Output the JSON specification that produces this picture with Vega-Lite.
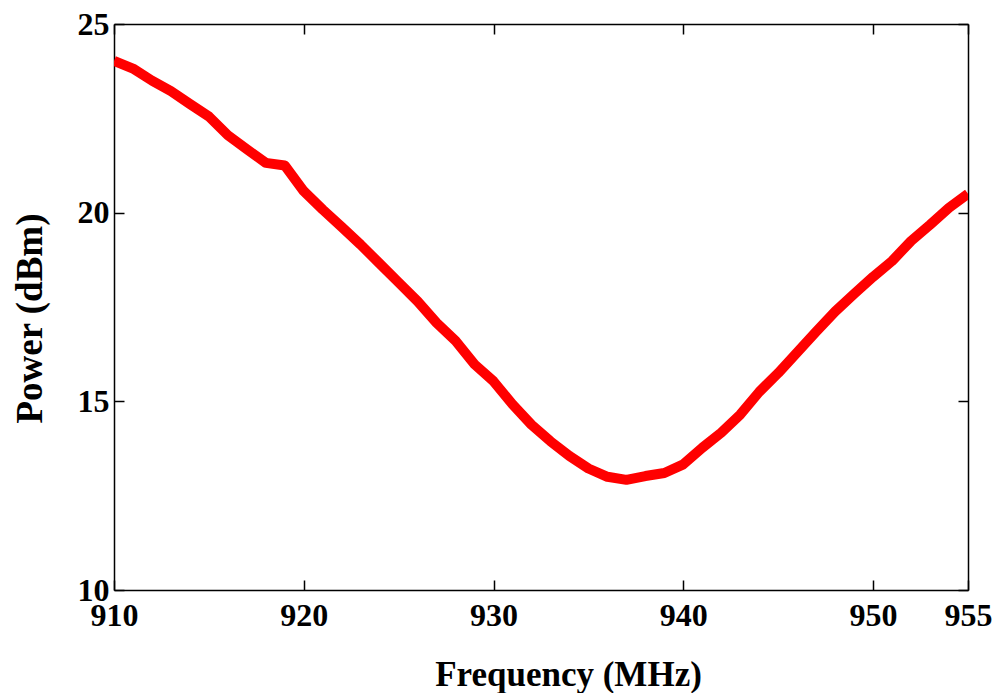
{
  "$schema": "https://vega.github.io/schema/vega-lite/v6.json",
  "autosize": "none",
  "width": 854,
  "height": 566,
  "padding": {"left": 114, "top": 24, "right": 26, "bottom": 103},
  "background": "white",
  "config": {
    "view": {"stroke": null},
    "font": "Liberation Serif",
    "axis": {
      "domainColor": "black",
      "domainWidth": 1.5,
      "tickColor": "black",
      "tickWidth": 1.5,
      "tickSize": -10,
      "grid": false,
      "labelFont": "Liberation Serif",
      "labelFontWeight": "bold",
      "labelFontSize": 32,
      "labelColor": "black",
      "titleFont": "Liberation Serif",
      "titleFontWeight": "bold",
      "titleColor": "black"
    }
  },
  "data": {
    "values": [
      {"f": 910, "p": 24.02}, {"f": 911, "p": 23.82}, {"f": 912, "p": 23.5},
      {"f": 913, "p": 23.22}, {"f": 914, "p": 22.88}, {"f": 915, "p": 22.55},
      {"f": 916, "p": 22.05}, {"f": 917, "p": 21.68}, {"f": 918, "p": 21.32},
      {"f": 919, "p": 21.25}, {"f": 920, "p": 20.57}, {"f": 921, "p": 20.08},
      {"f": 922, "p": 19.62}, {"f": 923, "p": 19.15}, {"f": 924, "p": 18.65},
      {"f": 925, "p": 18.15}, {"f": 926, "p": 17.65}, {"f": 927, "p": 17.08},
      {"f": 928, "p": 16.6}, {"f": 929, "p": 15.98}, {"f": 930, "p": 15.53},
      {"f": 931, "p": 14.92}, {"f": 932, "p": 14.38}, {"f": 933, "p": 13.94},
      {"f": 934, "p": 13.55}, {"f": 935, "p": 13.22}, {"f": 936, "p": 13.0},
      {"f": 937, "p": 12.92}, {"f": 938, "p": 13.02}, {"f": 939, "p": 13.1},
      {"f": 940, "p": 13.33}, {"f": 941, "p": 13.77}, {"f": 942, "p": 14.17},
      {"f": 943, "p": 14.65}, {"f": 944, "p": 15.25}, {"f": 945, "p": 15.75},
      {"f": 946, "p": 16.3}, {"f": 947, "p": 16.85}, {"f": 948, "p": 17.38},
      {"f": 949, "p": 17.85}, {"f": 950, "p": 18.3}, {"f": 951, "p": 18.72},
      {"f": 952, "p": 19.25}, {"f": 953, "p": 19.68}, {"f": 954, "p": 20.13},
      {"f": 955, "p": 20.5}
    ]
  },
  "resolve": {"axis": {"x": "independent", "y": "independent"}},
  "layer": [
    {
      "mark": {"type": "line", "color": "#ff0000", "strokeWidth": 10, "strokeJoin": "round", "strokeCap": "butt", "clip": true},
      "encoding": {
        "x": {
          "field": "f", "type": "quantitative",
          "scale": {"domain": [910, 955], "nice": false, "zero": false},
          "axis": {
            "orient": "bottom",
            "values": [910, 920, 930, 940, 950, 955],
            "labelPadding": 20,
            "labelBaseline": "top",
            "labelFlush": false,
            "title": "Frequency (MHz)",
            "titleFontSize": 35,
            "titleX": 454,
            "titleY": 95,
            "titleBaseline": "alphabetic",
            "titleAnchor": "start",
            "titleAlign": "center"
          }
        },
        "y": {
          "field": "p", "type": "quantitative",
          "scale": {"domain": [10, 25], "nice": false, "zero": false},
          "axis": {
            "orient": "left",
            "values": [10, 15, 20, 25],
            "labelPadding": 15,
            "labelFlush": false,
            "title": "Power (dBm)",
            "titleFontSize": 37,
            "titleAngle": -90,
            "titleX": -84,
            "titleY": 294,
            "titleBaseline": "middle",
            "titleAlign": "center",
            "titleAnchor": "start"
          }
        }
      }
    },
    {
      "mark": {"type": "line", "opacity": 0},
      "encoding": {
        "x": {
          "field": "f", "type": "quantitative",
          "axis": {"orient": "top", "values": [910, 920, 930, 940, 950, 955], "labels": false, "title": null}
        },
        "y": {
          "field": "p", "type": "quantitative",
          "axis": {"orient": "right", "values": [10, 15, 20, 25], "labels": false, "title": null}
        }
      }
    }
  ]
}
